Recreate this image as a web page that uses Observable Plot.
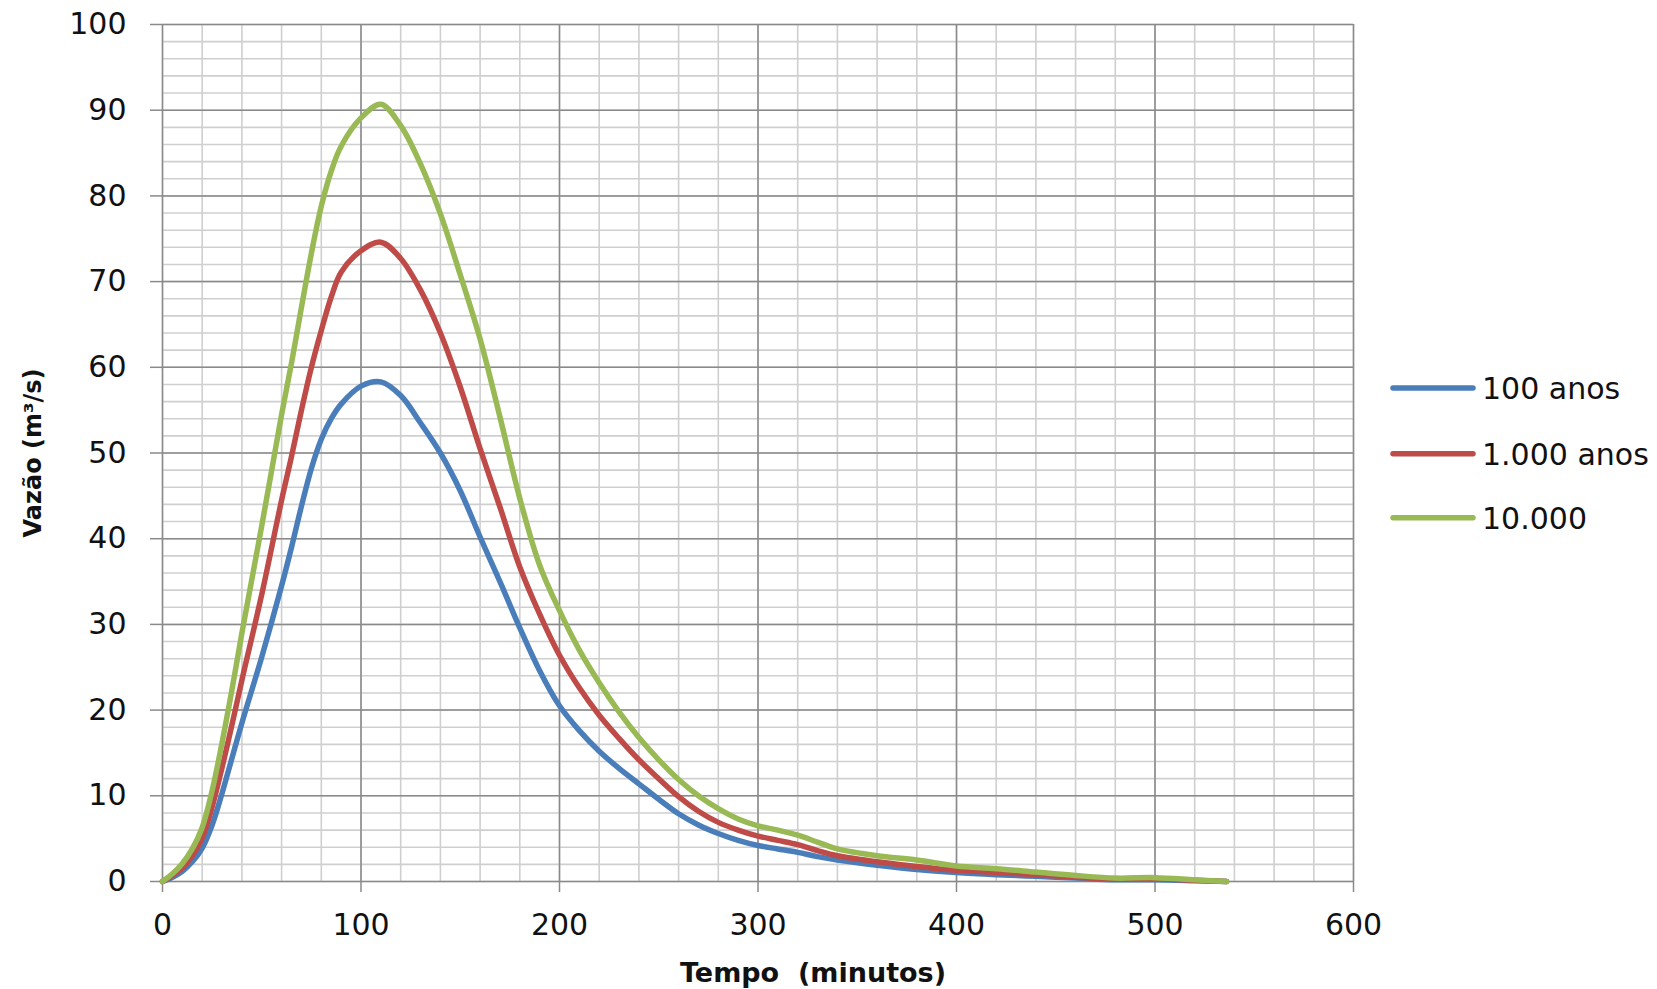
<!DOCTYPE html>
<html>
<head>
<meta charset="utf-8">
<script src="https://cdn.jsdelivr.net/npm/d3@7"></script>
<script src="https://cdn.jsdelivr.net/npm/@observablehq/plot@0.6"></script>
<style>
  body { margin: 0; background: #fff; font-family: "DejaVu Sans", sans-serif; }
  #wrap { position: relative; width: 1657px; height: 989px; overflow: hidden; }
  #legend { position: absolute; left: 0; top: 0; }
</style>
</head>
<body>
<div id="wrap"></div>
<script>
// ---- data ----
const series = ["100 anos", "1.000 anos", "10.000"];
const colors = ["#4A7EBB", "#BE4B48", "#98B954"];
const tempo = [0, 5, 10, 15, 20, 25, 30, 35, 40, 50, 60, 65, 70, 75, 80, 85, 90, 100, 110, 120, 130, 140, 150, 160, 170, 180, 190, 200, 210, 220, 230, 240, 250, 260, 270, 280, 290, 300, 310, 320, 330, 340, 360, 380, 400, 420, 440, 460, 480, 500, 520, 536];
const vazao100 = [0, 0.5, 1.2, 2.3, 3.9, 6.6, 10.3, 14.4, 18.5, 26.2, 34.5, 39, 43.8, 48.2, 51.6, 54, 55.7, 57.8, 58.3, 56.7, 53.5, 50, 45.6, 40.2, 35, 29.6, 24.6, 20.5, 17.6, 15.2, 13.2, 11.4, 9.6, 7.9, 6.6, 5.6, 4.8, 4.2, 3.8, 3.4, 2.9, 2.5, 1.9, 1.4, 1.05, 0.8, 0.6, 0.4, 0.2, 0.2, 0.1, 0];
const vazao1000 = [0, 0.7, 1.6, 3, 5.1, 8.7, 13.3, 18.3, 23.5, 33.5, 44.5, 49.6, 55, 60, 64.3, 68.2, 71.1, 73.6, 74.6, 72.7, 69, 64, 57.7, 50.5, 43.7, 36.7, 31.2, 26.4, 22.6, 19.4, 16.7, 14.2, 12, 9.9, 8.2, 6.9, 6, 5.3, 4.8, 4.3, 3.6, 3.0, 2.3, 1.75, 1.3, 1.05, 0.8, 0.5, 0.3, 0.3, 0.15, 0];
const vazao10000 = [0, 0.9, 2.1, 3.8, 6.3, 10.6, 16.2, 22.4, 29, 41.5, 54.5, 60.5, 67, 73.3, 78.8, 82.9, 85.8, 89.1, 90.7, 88.2, 83.7, 77.9, 70.8, 63.3, 54.2, 44.7, 36.9, 31.6, 27, 23.2, 19.8, 16.8, 14.2, 11.9, 10, 8.5, 7.3, 6.5, 6, 5.4, 4.6, 3.8, 3.0, 2.5, 1.8, 1.5, 1.1, 0.7, 0.4, 0.45, 0.2, 0];
const xMajorTicks = [0, 100, 200, 300, 400, 500, 600];
const yMajorTicks = [0, 10, 20, 30, 40, 50, 60, 70, 80, 90, 100];
const xMinorTicks = d3.range(0, 601, 20);
const yMinorTicks = d3.range(0, 101, 2);
const xTitle = "Tempo \u00a0(minutos)";
const yTitle = "Vazão (m³/s)";

// ---- table ----
const allValues = [vazao100, vazao1000, vazao10000];
const rows = [];
series.forEach((s, i) => tempo.forEach((t, j) => rows.push({serie: s, t, v: allValues[i][j]})));

const chart = Plot.plot({
  width: 1657,
  height: 989,
  marginLeft: 162,
  marginRight: 304,
  marginTop: 24,
  marginBottom: 108,
  x: {domain: [0, 600]},
  y: {domain: [0, 100]},
  color: {domain: series, range: colors},
  style: {background: "#fff", fontFamily: "DejaVu Sans, sans-serif", color: "#111", overflow: "visible"},
  marks: [
    Plot.ruleX(xMinorTicks, {stroke: "#cfcfcf", strokeWidth: 1.6}),
    Plot.ruleY(yMinorTicks, {stroke: "#cfcfcf", strokeWidth: 1.6}),
    Plot.ruleX(xMajorTicks, {stroke: "#8a8a8a", strokeWidth: 1.5}),
    Plot.ruleY(yMajorTicks, {stroke: "#8a8a8a", strokeWidth: 1.5}),
    Plot.axisX({ticks: xMajorTicks, tickSize: 11, tickPadding: 21, stroke: "#8a8a8a", strokeWidth: 1.5, fill: "#111", fontSize: 30, label: null, tickFormat: d => String(d)}),
    Plot.axisY({ticks: yMajorTicks, tickSize: 12, tickPadding: 24, stroke: "#8a8a8a", strokeWidth: 1.5, fill: "#111", fontSize: 30, label: null, tickFormat: d => String(d)}),
    Plot.line(rows, {x: "t", y: "v", z: "serie", stroke: "serie", strokeWidth: 5.5, curve: "catmull-rom", strokeLinecap: "round", strokeLinejoin: "round"}),
    Plot.text([yTitle], {text: d => d, frameAnchor: "left", textAnchor: "middle", lineAnchor: "middle", dx: -129, rotate: -90, fontWeight: "bold", fontSize: 24, fill: "#111"}),
    Plot.text([xTitle], {text: d => d, frameAnchor: "bottom", textAnchor: "middle", lineAnchor: "middle", dx: 55, dy: 92, fontWeight: "bold", fontSize: 27, fill: "#111"})
  ]
});

const wrap = document.getElementById("wrap");
wrap.appendChild(chart);

// ---- legend (right side) ----
const legendY = [388, 453.7, 517.7];
const leg = d3.select(wrap).append("svg")
  .attr("id", "legend")
  .attr("width", 1657).attr("height", 989)
  .style("pointer-events", "none");
series.forEach((s, i) => {
  leg.append("line")
    .attr("x1", 1393).attr("x2", 1473)
    .attr("y1", legendY[i]).attr("y2", legendY[i])
    .attr("stroke", colors[i]).attr("stroke-width", 5.5).attr("stroke-linecap", "round");
  leg.append("text")
    .attr("x", 1482).attr("y", legendY[i])
    .attr("dy", "0.36em")
    .attr("font-family", "DejaVu Sans, sans-serif")
    .attr("font-size", 30)
    .attr("fill", "#111")
    .text(s);
});
</script>
</body>
</html>
